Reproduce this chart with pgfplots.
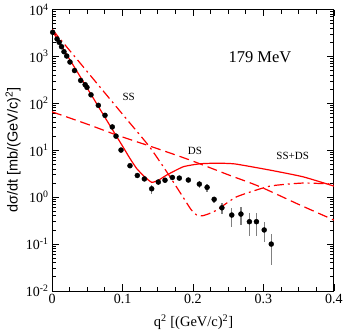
\documentclass[border=0pt]{standalone}
\usepackage{fontspec}
\setmainfont{Liberation Serif}
\newfontfamily\labsans{Liberation Sans}
\usepackage{pgfplots}
\pgfplotsset{compat=1.18}
\usepackage{pgfplotstable}

% measured points: q2, dsigma/dt, error
\pgfplotstableread{
x      y      ey
0.001  3270   0
0.0072 2350   0
0.0102 2000   0
0.0135 1610   0
0.0170 1260   0
0.0209 1020   0
0.0255 760    0
0.032  500    0
0.0407 307    0
0.0470 250    0
0.0496 219    0
0.0553 152    0
0.0657 90.6   0
0.0752 55.5   0
0.0855 31.4   0
0.0908 20.0   0
0.0979 10.1   0
0.1106 4.68   0.3
0.1210 2.90   0.2
0.1310 2.45   0.2
0.1414 1.51   0.35
0.1508 2.10   0.3
0.1603 2.30   0.3
0.1707 2.63   0.3
0.1806 2.55   0.25
0.1934 2.32   0.25
0.2090 1.90   0.3
0.2200 1.62   0.3
0.2300 0.90   0.13
0.2410 0.594  0.16
0.2550 0.416  0.18
0.2680 0.437  0.18
0.2800 0.30   0.15
0.2900 0.30   0.15
0.3010 0.20   0.09
0.3110 0.10   0.065
}\datatab

\begin{document}
\begin{tikzpicture}
\begin{axis}[
    at={(0,0)}, anchor=south west,
    scale only axis, width=282pt, height=281.5pt,
    ymode=log, log basis y=10,
    xmin=0, xmax=0.4, ymin=1e-2, ymax=1e4,
    xtick={0,0.1,0.2,0.3,0.4},
    xticklabels={0,0.1,0.2,0.3,0.4},
    minor x tick num=3,
    ytick={1e-2,1e-1,1,10,100,1000,10000},
    yticklabels={10\textsuperscript{-2},10\textsuperscript{-1},10\textsuperscript{0},10\textsuperscript{1},10\textsuperscript{2},10\textsuperscript{3},10\textsuperscript{4}},
    minor ytick={0.02,0.03,0.04,0.05,0.06,0.07,0.08,0.09,
                 0.2,0.3,0.4,0.5,0.6,0.7,0.8,0.9,
                 2,3,4,5,6,7,8,9,
                 20,30,40,50,60,70,80,90,
                 200,300,400,500,600,700,800,900,
                 2000,3000,4000,5000,6000,7000,8000,9000},
    tick pos=both, tick align=inside,
    major tick length=7pt, minor tick length=4pt,
    every tick/.style={black, line width=0.8pt},
    axis line style={line width=1pt},
    tick label style={font=\fontsize{14}{14}\selectfont},
    xlabel={q\textsuperscript{2} [(GeV/c)\textsuperscript{2}]},
    ylabel={\labsans dσ/dt [mb/(GeV/c)\textsuperscript{2}]},
    label style={font=\fontsize{14.5}{14.5}\selectfont},
    xlabel style={at={(axis description cs:0.502,-0.11)}, anchor=center},
    ylabel style={at={(axis description cs:-0.138,0.5)}, anchor=center},
]

% SS+DS
\addplot[red, line width=1.2pt, smooth, tension=0.3] coordinates {
(0,3600)(0.02,1150)(0.04,370)(0.06,119)(0.08,38)(0.10,12.3)(0.11,6.9)
(0.12,4.1)(0.13,2.85)(0.1414,2.07)(0.152,2.35)(0.1627,2.96)(0.1862,4.45)
(0.21,5.15)(0.235,5.3)(0.26,5.1)(0.309,3.78)(0.356,2.72)(0.40,1.72)};

% SS
\addplot[red, line width=1.2pt, smooth, tension=0.3,
    dash pattern=on 10pt off 4pt on 2pt off 4pt] coordinates {
(0,3800)(0.04,718)(0.08,135)(0.11,38.8)(0.1383,11.9)(0.1627,3.48)
(0.185,1.05)(0.197,0.55)(0.205,0.42)(0.213,0.40)(0.222,0.44)
(0.2336,0.53)(0.262,1.02)(0.309,1.72)(0.356,2.0)(0.40,1.9)};

% DS
\addplot[red, line width=1.2pt, smooth, dash pattern=on 10pt off 5pt] coordinates {
(0,66)(0.05,36)(0.0918,21.1)(0.1414,11.9)(0.1957,6.18)(0.25,3.0)
(0.295,1.67)(0.35,0.70)(0.40,0.325)};

% data
\addplot[only marks, mark=*, mark size=2.5pt, black,
    error bars/.cd, y dir=both, y explicit,
    error mark=none, error bar style={gray, line width=1.3pt}]
    table[x=x, y=y, y error=ey] {\datatab};

\node[font=\fontsize{16.5}{16.5}\selectfont] at (axis cs:0.295,970) {179 MeV};
\node[font=\fontsize{11}{11}\selectfont] at (axis cs:0.1088,136) {SS};
\node[font=\fontsize{11}{11}\selectfont] at (axis cs:0.2028,9.8) {DS};
\node[font=\fontsize{11}{11}\selectfont] at (axis cs:0.3414,7.64) {SS+DS};
\end{axis}
\pgfresetboundingbox
\path[use as bounding box] (-52pt,-39pt) rectangle (293pt,291pt);
\end{tikzpicture}
\end{document}
